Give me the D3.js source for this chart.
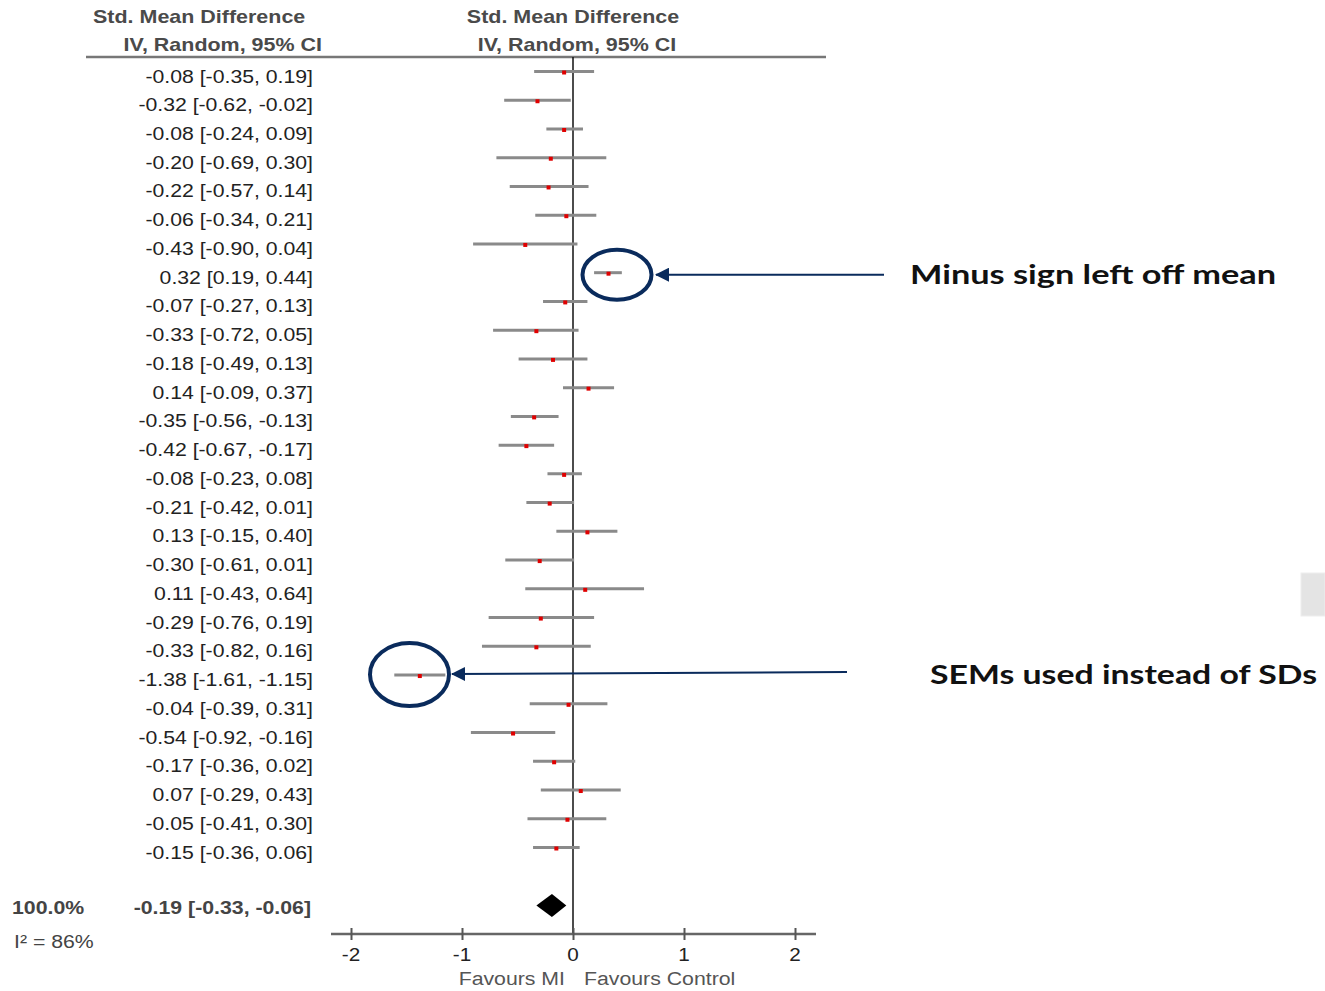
<!DOCTYPE html>
<html lang="en">
<head>
    <meta charset="UTF-8">
    <script src="https://d3js.org/d3.v7.min.js"></script>
    <title>Forest plot</title>
    <style>
        body { margin: 0; background: #fff; }
        svg { display: block; }
    </style>
</head>
<body>
    <svg></svg>
    <script>
        // study rows: mean and 95% CI
        const est = [-0.08, -0.32, -0.08, -0.20, -0.22, -0.06, -0.43, 0.32, -0.07, -0.33,
                     -0.18, 0.14, -0.35, -0.42, -0.08, -0.21, 0.13, -0.30, 0.11, -0.29,
                     -0.33, -1.38, -0.04, -0.54, -0.17, 0.07, -0.05, -0.15];
        const lo  = [-0.35, -0.62, -0.24, -0.69, -0.57, -0.34, -0.90, 0.19, -0.27, -0.72,
                     -0.49, -0.09, -0.56, -0.67, -0.23, -0.42, -0.15, -0.61, -0.43, -0.76,
                     -0.82, -1.61, -0.39, -0.92, -0.36, -0.29, -0.41, -0.36];
        const hi  = [0.19, -0.02, 0.09, 0.30, 0.14, 0.21, 0.04, 0.44, 0.13, 0.05,
                     0.13, 0.37, -0.13, -0.17, 0.08, 0.01, 0.40, 0.01, 0.64, 0.19,
                     0.16, -1.15, 0.31, -0.16, 0.02, 0.43, 0.30, 0.06];

        // pooled result
        const pooled = { est: -0.19, lo: -0.33, hi: -0.06, weight: '100.0%', i2: 86 };

        const tickValues = [-2, -1, 0, 1, 2];
        const headers = ['Std. Mean Difference', 'IV, Random, 95% CI'];
        const favours = ['Favours MI', 'Favours Control'];
        const notes = ['Minus sign left off mean', 'SEMs used instead of SDs'];
        const noteRows = [7, 21];   // rows the notes point at

        const W = 1325, H = 991;
        const navy = '#0a2b5c';

        const svg = d3.select('svg').attr('width', W).attr('height', H);

        const x = d3.scaleLinear().domain([-2, 2]).range([351, 795]);
        const y = d3.scaleLinear().domain([0, est.length - 1]).range([71.5, 847.5]);

        const fmt = v => v.toFixed(2);

        // text helper, the picture is a bit wider than it is tall
        function label(str, px, py, o) {
            o = o || {};
            return svg.append('text')
                .attr('transform', `translate(${px},${py}) scale(${o.sx || 1.18},1)`)
                .attr('text-anchor', o.anchor || 'start')
                .attr('font-family', o.family || 'Liberation Sans, Arial, sans-serif')
                .attr('font-size', o.size || 18)
                .attr('font-weight', o.weight || 'normal')
                .attr('fill', o.color || '#222')
                .text(str);
        }

        // headers
        label(headers[0], 93, 23, { weight: 'bold', size: 19, sx: 1.13, color: '#4a4a4a' });
        label(headers[1], 322, 51, { weight: 'bold', size: 19, sx: 1.13, color: '#4a4a4a', anchor: 'end' });
        label(headers[0], 573, 23, { weight: 'bold', size: 19, sx: 1.13, color: '#4a4a4a', anchor: 'middle' });
        label(headers[1], 577, 51, { weight: 'bold', size: 19, sx: 1.13, color: '#4a4a4a', anchor: 'middle' });

        svg.append('line')
            .attr('x1', 86).attr('x2', 826).attr('y1', 57).attr('y2', 57)
            .attr('stroke', '#777').attr('stroke-width', 2.5);

        // zero line
        svg.append('line')
            .attr('x1', x(0)).attr('x2', x(0)).attr('y1', 57).attr('y2', 934)
            .attr('stroke', '#111').attr('stroke-width', 1.5);

        // row text
        est.forEach((d, i) => {
            label(`${fmt(d)} [${fmt(lo[i])}, ${fmt(hi[i])}]`, 313, y(i) + 11, { anchor: 'end' });
        });

        // CI lines and points
        svg.append('g').selectAll('line')
            .data(est)
            .join('line')
            .attr('x1', (d, i) => x(lo[i]))
            .attr('x2', (d, i) => x(hi[i]))
            .attr('y1', (d, i) => y(i))
            .attr('y2', (d, i) => y(i))
            .attr('stroke', '#8a8a8a')
            .attr('stroke-width', 3);

        svg.append('g').selectAll('rect')
            .data(est)
            .join('rect')
            .attr('x', d => x(d) - 2)
            .attr('y', (d, i) => y(i) - 1)
            .attr('width', 4)
            .attr('height', 4)
            .attr('fill', '#e00000');

        // pooled diamond
        const yd = 905.5;
        svg.append('path')
            .attr('d', `M${x(pooled.lo)},${yd} L${x(pooled.est)},${yd - 11.5} L${x(pooled.hi)},${yd} L${x(pooled.est)},${yd + 11.5} Z`)
            .attr('fill', '#000');

        label(pooled.weight, 12, 914, { weight: 'bold', size: 19, sx: 1.12, color: '#444' });
        label(`${fmt(pooled.est)} [${fmt(pooled.lo)}, ${fmt(pooled.hi)}]`, 311, 914,
            { weight: 'bold', size: 19, sx: 1.12, color: '#444', anchor: 'end' });
        label(`I² = ${pooled.i2}%`, 14, 948, { size: 19, sx: 1.12, color: '#444' });

        // axis
        svg.append('line')
            .attr('x1', 331).attr('x2', 816).attr('y1', 934).attr('y2', 934)
            .attr('stroke', '#666').attr('stroke-width', 2.5);

        const axis = svg.append('g')
            .attr('transform', 'translate(0,934)')
            .call(d3.axisBottom(x).tickValues(tickValues).tickSizeOuter(0).tickFormat(d3.format('d')));
        axis.select('.domain').remove();
        axis.selectAll('.tick line').attr('y1', -6).attr('y2', 6)
            .attr('stroke', '#555').attr('stroke-width', 2);
        axis.selectAll('.tick text').remove();
        tickValues.forEach(t => {
            label(t < 0 ? '-' + Math.abs(t) : String(t), x(t), 961, { anchor: 'middle', size: 18, sx: 1.15, color: '#222' });
        });

        label(favours[0], 565, 985, { anchor: 'end', size: 19, sx: 1.12, color: '#555' });
        label(favours[1], 584, 985, { size: 19, sx: 1.12, color: '#555' });

        // annotations
        const marker = svg.append('defs').append('marker')
            .attr('id', 'head')
            .attr('viewBox', '0 0 14 14')
            .attr('refX', 13).attr('refY', 7)
            .attr('markerWidth', 14).attr('markerHeight', 14)
            .attr('markerUnits', 'userSpaceOnUse')
            .attr('orient', 'auto');
        marker.append('path').attr('d', 'M0,0 L14,7 L0,14 Z').attr('fill', navy);

        const r1 = noteRows[0], r2 = noteRows[1];
        svg.append('ellipse')
            .attr('cx', 617).attr('cy', y(r1) + 2).attr('rx', 34.5).attr('ry', 25)
            .attr('fill', 'none').attr('stroke', navy).attr('stroke-width', 4);
        svg.append('ellipse')
            .attr('cx', 409.5).attr('cy', y(r2) - 0.5).attr('rx', 39.5).attr('ry', 31.5)
            .attr('fill', 'none').attr('stroke', navy).attr('stroke-width', 4);

        svg.append('line')
            .attr('x1', 884).attr('y1', y(r1) + 2).attr('x2', 656).attr('y2', y(r1) + 2)
            .attr('stroke', navy).attr('stroke-width', 2)
            .attr('marker-end', 'url(#head)');
        svg.append('line')
            .attr('x1', 847).attr('y1', y(r2) - 3).attr('x2', 452).attr('y2', y(r2) - 1)
            .attr('stroke', navy).attr('stroke-width', 2)
            .attr('marker-end', 'url(#head)');

        label(notes[0], 910, 284, { family: 'Lato, sans-serif', size: 26, weight: 'bold', sx: 1, color: '#111' })
            .attr('textLength', 366).attr('lengthAdjust', 'spacingAndGlyphs');
        label(notes[1], 930, 684, { family: 'Lato, sans-serif', size: 26, weight: 'bold', sx: 1, color: '#111' })
            .attr('textLength', 387).attr('lengthAdjust', 'spacingAndGlyphs');

        // small grey block at the right edge
        svg.append('rect')
            .attr('x', 1301).attr('y', 573).attr('width', 24).attr('height', 43)
            .attr('fill', '#e4e4e4').attr('stroke', '#eee');
    </script>
</body>
</html>
